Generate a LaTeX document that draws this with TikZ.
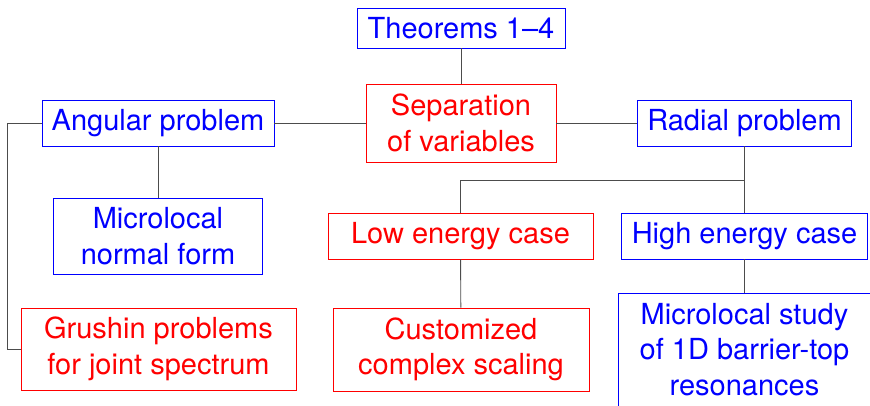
\documentclass[tikz,border=0pt]{standalone}
\usepackage{fontspec}
\setmainfont{TeX Gyre Heros}
\usepackage{xcolor}
\usepackage{tikz}

\definecolor{boxblue}{rgb}{0,0,1}
\definecolor{boxred}{rgb}{1,0,0}

\begin{document}
\begin{tikzpicture}[
  x=1pt, y=-1pt,
  box/.style={draw, rectangle, inner sep=0pt, line width=0.9pt,
              text centered, align=center,
              font=\fontsize{29}{35.5}\selectfont},
  bluebox/.style={box, draw=boxblue, text=boxblue},
  redbox/.style={box, draw=boxred, text=boxred},
  conn/.style={line width=0.9pt, black!70}
]
\useasboundingbox (0,0) rectangle (870,405);

% ── Top ──
\node[bluebox, minimum width=208pt, minimum height=40pt] (thm) at (461, 28)
     {Theorems 1--4};
\node[redbox, minimum width=190pt, minimum height=78pt] (sep) at (461, 123)
     {Separation\\of variables};

% ── Angular / radial row ──
\node[bluebox, minimum width=232pt, minimum height=46pt] (ang) at (158, 123)
     {Angular problem};
\node[bluebox, minimum width=214pt, minimum height=46pt] (rad) at (744.5, 123)
     {Radial problem};

% ── Middle row ──
\node[bluebox, minimum width=209pt, minimum height=76pt] (mnf) at (158, 236)
     {Microlocal\\normal form};
\node[redbox, minimum width=265pt, minimum height=46pt] (low) at (460.5, 236)
     {Low energy case};
\node[bluebox, minimum width=246pt, minimum height=46pt] (high) at (744.5, 236)
     {High energy case};

% ── Bottom row (last box runs past the lower edge) ──
\node[redbox, minimum width=275pt, minimum height=82pt] (gru) at (158.5, 349)
     {Grushin problems\\for joint spectrum};
\node[redbox, minimum width=256pt, minimum height=83pt] (cus) at (461, 349.5)
     {Customized\\complex scaling};
\node[bluebox, minimum width=253pt, minimum height=124pt] (mst) at (744.5, 355)
     {Microlocal study\\of 1D barrier-top\\resonances\rule[-12pt]{0pt}{12pt}};

% ── Connectors ──
\draw[conn] (thm) -- (sep);
\draw[conn] (sep) -- (ang);
\draw[conn] (sep) -- (rad);
\draw[conn] (ang) -- (mnf);
\draw[conn] (ang.west) -- ++(-34, 0) |- (gru.west);
\coordinate (fork) at (744.5, 180);
\draw[conn] (rad) -- (high);
\draw[conn] (fork) -| (low);
\draw[conn] (low) -- (cus);
\draw[conn] (high) -- (mst);

\end{tikzpicture}
\end{document}
